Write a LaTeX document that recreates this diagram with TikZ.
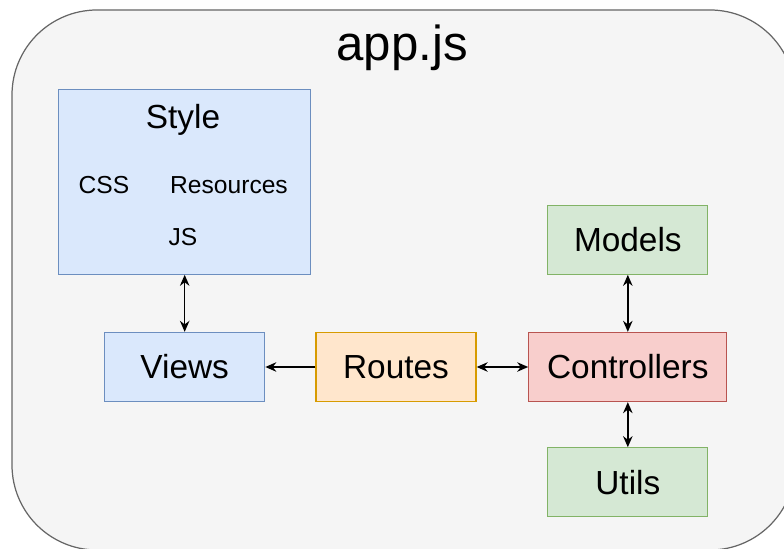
\documentclass[tikz,border=0pt]{standalone}
\usepackage{fontspec}
\setmainfont{Liberation Sans}
\usetikzlibrary{arrows.meta,positioning}

\definecolor{outerfill}{HTML}{F5F5F5}
\definecolor{outerline}{HTML}{666666}
\definecolor{bluefill}{HTML}{DAE8FC}
\definecolor{blueline}{HTML}{6C8EBF}
\definecolor{orangefill}{HTML}{FFE6CC}
\definecolor{orangeline}{HTML}{D79B00}
\definecolor{redfill}{HTML}{F8CECC}
\definecolor{redline}{HTML}{B85450}
\definecolor{greenfill}{HTML}{D5E8D4}
\definecolor{greenline}{HTML}{82B366}

\begin{document}
\begin{tikzpicture}[
    box/.style={draw, line width=0.75pt, minimum width=3.2cm, minimum height=1.38cm, font=\fontsize{19}{22}\selectfont},
    bluebox/.style={box, fill=bluefill, draw=blueline},
    orangebox/.style={box, fill=orangefill, draw=orangeline},
    redbox/.style={box, fill=redfill, draw=redline},
    greenbox/.style={box, fill=greenfill, draw=greenline},
    small/.style={font=\fontsize{14}{17}\selectfont},
    link/.style={line width=0.8pt},
    >={Stealth[length=2.2mm, width=1.9mm]}
  ]
    \clip (0,0) rectangle (15.68,-10.98);
    \draw[fill=outerfill, draw=outerline, line width=0.7pt, rounded corners=1.7cm] (0.24,-0.2) rectangle (15.9,-11.0);
    \node[font=\fontsize{28}{32}\selectfont] (app) at (8.04,-0.96) {app.js};

    \node[orangebox] (routes) at (7.92,-7.34) {Routes};
    \node[bluebox, left=1.0cm of routes] (views) {Views};
    \node[redbox, right=1.03cm of routes, minimum width=3.96cm] (controllers) {Controllers};
    \node[greenbox, above=1.14cm of controllers] (models) {Models};
    \node[greenbox, below=0.9cm of controllers] (utils) {Utils};
    \node[bluebox, above=1.14cm of views, minimum width=5.04cm, minimum height=3.7cm] (style) {};

    % contents of the style box
    \node[font=\fontsize{19}{22}\selectfont] (styletitle) at (3.66,-2.4) {Style};
    \node[small] (css) at (2.08,-3.70) {CSS};
    \node[small] (resources) at (4.58,-3.70) {Resources};
    \node[small] (js) at (3.66,-4.74) {JS};

    \draw[link,<->] (style) -- (views);
    \draw[link,->] (routes) -- (views);
    \draw[link,<->] (routes) -- (controllers);
    \draw[link,<->] (models) -- (controllers);
    \draw[link,<->] (controllers) -- (utils);
\end{tikzpicture}
\end{document}
